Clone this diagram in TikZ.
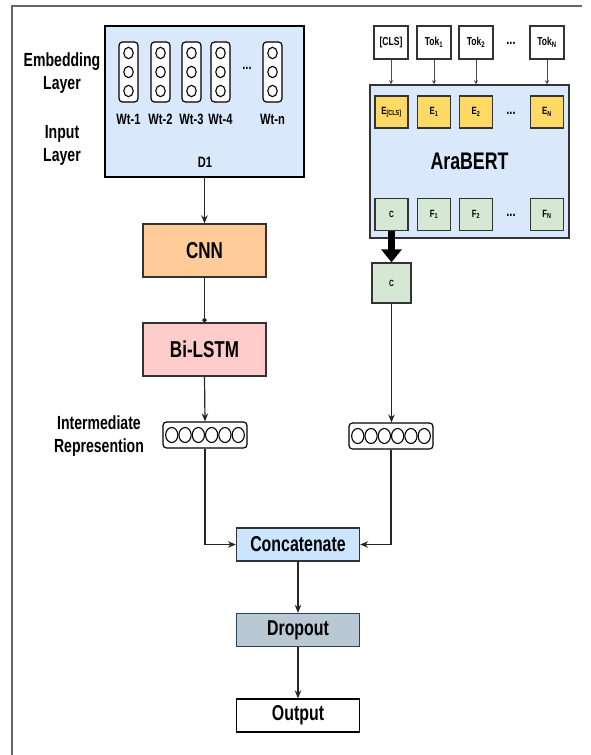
\documentclass[tikz,border=0pt]{standalone}
\usepackage{fontspec}
\setmainfont{Liberation Sans}[FakeStretch=0.74]
\usetikzlibrary{arrows.meta}
\definecolor{dblue}{HTML}{DAE8FC}
\definecolor{cnnc}{HTML}{FFCC99}
\definecolor{lstmc}{HTML}{FFCCCC}
\definecolor{concc}{HTML}{CCE5FF}
\definecolor{dropc}{HTML}{BAC8D3}
\definecolor{dropb}{HTML}{23445D}
\definecolor{ec}{HTML}{FFD966}
\definecolor{fc}{HTML}{D5E8D4}
\definecolor{bord}{HTML}{333333}
\begin{document}
\begin{tikzpicture}[x=1pt,y=-1pt,
  box/.style={draw=bord, line width=1.3pt, inner sep=0pt, align=center, text=black},
  mainbox/.style={box, minimum width=123pt, minimum height=53pt, font={\fontsize{23}{27}\selectfont\bfseries}},
  lowbox/.style={box, minimum width=123pt, minimum height=33pt, font={\fontsize{21.5}{25}\selectfont\bfseries}},
  tokbox/.style={box, fill=white, minimum width=34pt, minimum height=33pt, font={\fontsize{11.5}{13}\selectfont\bfseries}},
  inbox/.style={box, minimum width=33pt, minimum height=32pt, font={\fontsize{10.5}{12}\selectfont\bfseries}},
  vvec/.style={draw=black, line width=1.2pt, rounded corners=3.5pt, fill=white, minimum width=19pt, minimum height=60pt, inner sep=0pt},
  hvec/.style={draw=black, line width=1.2pt, rounded corners=3.5pt, fill=white, minimum width=84pt, minimum height=26pt, inner sep=0pt},
  lbl/.style={align=center, font={\fontsize{19}{23}\selectfont\bfseries}},
  wlbl/.style={font={\fontsize{15}{17}\selectfont\bfseries}},
  arr/.style={draw=black!85, line width=1.2pt, -{Stealth[length=8pt,width=6.5pt]}},
  thin/.style={draw=black!70, line width=0.8pt, -{Stealth[length=4pt,width=4pt]}},
]
\useasboundingbox (0,0) rectangle (591,755);
% frame
\draw[black!60, line width=1.3pt] (12,755) -- (12,6) -- (582,6);

% left labels
\node[lbl] (emb) at (62,73) {Embedding\\Layer};
\node[lbl] (inp) at (62,145) {Input\\Layer};

% D1 block
\node[box, line width=1.6pt, draw=black, fill=dblue, minimum width=199pt, minimum height=151pt] (D1) at (204.5,101.5) {};
\node[wlbl] (d1lbl) at (205,162) {D1};
\foreach \x/\n/\t in {128.5/v1/Wt-1,160.5/v2/Wt-2,191.5/v3/Wt-3,220.5/v4/Wt-4,272.5/vn/Wt-n}{
  \node[vvec] (\n) at (\x,72) {};
  \foreach \y in {53,72,91} \draw[line width=1.1pt] (\x,\y) ellipse [x radius=4.7pt, y radius=5.7pt];
  \node[wlbl] (\n l) at (\x,119) {\t};
}
\node[wlbl] (vdots) at (247,68) {...};

% CNN / BiLSTM
\node[mainbox, fill=cnnc] (cnn) at (204.5,250.5) {CNN};
\node[mainbox, fill=lstmc] (lstm) at (204.5,349.5) {Bi-LSTM};

% intermediate vectors
\node[hvec] (lvec) at (205,435) {};
\node[hvec] (rvec) at (391,436) {};
\foreach \c in {205,391}{
  \foreach \k in {0,...,5}
    \draw[line width=1.1pt] ({\c+(\k-2.5)*13.3},{\c==205 ? 435 : 436}) ellipse [x radius=6.1pt, y radius=7.5pt];
}
\node[lbl] (interm) at (99,436) {Intermediate\\Represention};

% bottom stack
\node[lowbox, fill=concc] (concat) at (298,544.5) {Concatenate};
\node[lowbox, fill=dropc, draw=dropb] (drop) at (298,630) {Dropout};
\node[lowbox, fill=white, draw=black] (out) at (298,715.5) {Output};

% AraBERT
\node[box, line width=1.5pt, fill=dblue, minimum width=199pt, minimum height=153pt, font={\fontsize{24}{28}\selectfont\bfseries}] (ara) at (469.5,161.5) {AraBERT};
\node[tokbox] (tcls) at (391,42.5) {[CLS]};
\node[tokbox] (t1) at (434,42.5) {Tok\textsubscript{1}};
\node[tokbox] (t2) at (476,42.5) {Tok\textsubscript{2}};
\node[tokbox] (tn) at (547,42.5) {Tok\textsubscript{N}};
\node[wlbl] (tdots) at (511,43) {...};
\node[inbox, fill=ec] (ecls) at (391.5,112) {E\textsubscript{[CLS]}};
\node[inbox, fill=ec] (e1) at (434,112) {E\textsubscript{1}};
\node[inbox, fill=ec] (e2) at (476,112) {E\textsubscript{2}};
\node[inbox, fill=ec] (en) at (547,112) {E\textsubscript{N}};
\node[wlbl] (edots) at (511,113) {...};
\node[inbox, fill=fc, font={\fontsize{9}{10}\selectfont\bfseries}] (fc) at (391.5,214.5) {C};
\node[inbox, fill=fc] (f1) at (434,214.5) {F\textsubscript{1}};
\node[inbox, fill=fc] (f2) at (476,214.5) {F\textsubscript{2}};
\node[inbox, fill=fc] (fn) at (547,214.5) {F\textsubscript{N}};
\node[wlbl] (fdots) at (511,215) {...};
\node[box, fill=fc, minimum width=39pt, minimum height=40pt, font={\fontsize{9}{10}\selectfont\bfseries}] (csm) at (391.5,283) {C};

% connectors
\draw[arr] (D1.south -| cnn.north) -- (cnn.north);
\draw[draw=black!85, line width=1.2pt, -{Circle[length=4.5pt]}] (cnn.south) -- (lstm.north);
\draw[arr] (lstm.south) -- (lvec.north);
\draw[arr] (lvec.south) |- (concat.west);
\draw[arr] (rvec.south) |- (concat.east);
\draw[arr] (concat.south) -- (drop.north);
\draw[arr] (drop.south) -- (out.north);
\foreach \t in {tcls,t1,t2,tn} \draw[thin] (\t.south) -- (\t.south |- ara.north);
\draw[line width=7pt, -{Triangle[length=13pt,width=20pt]}] (fc.south) -- (csm.north);
\draw[arr] (csm.south) -- (csm.south |- rvec.north);
\end{tikzpicture}
\end{document}
